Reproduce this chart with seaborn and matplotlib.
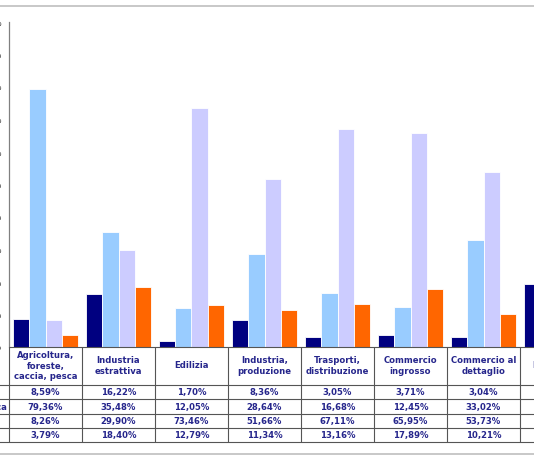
import numpy as np
import pandas as pd
import seaborn as sns
import matplotlib.pyplot as plt
from matplotlib.lines import Line2D

# categories (sectors) and the four series, values in %
settori = ["Agricoltura,\nforeste,\ncaccia, pesca", "Industria\nestrattiva", "Edilizia",
           "Industria,\nproduzione", "Trasporti,\ndistribuzione", "Commercio\ningrosso",
           "Commercio al\ndettaglio", "Ristoranti"]
serie = ["Grandi imprese", "Imprese agricole e della pesca", "Piccole imprese", "Medie imprese"]
serie_1 = [8.59, 16.22, 1.70, 8.36, 3.05, 3.71, 3.04, 19.30]
serie_2 = [79.36, 35.48, 12.05, 28.64, 16.68, 12.45, 33.02, None]
serie_3 = [8.26, 29.90, 73.46, 51.66, 67.11, 65.95, 53.73, None]
serie_4 = [3.79, 18.40, 12.79, 11.34, 13.16, 17.89, 10.21, None]
colori = ["#000080", "#99CCFF", "#CCCCFF", "#FF6600"]
yticks = list(range(0, 101, 10))

rows = []
for nome, vals in zip(serie, [serie_1, serie_2, serie_3, serie_4]):
    for s, v in zip(settori, vals):
        rows.append({"settore": s, "serie": nome, "valore": v})
df = pd.DataFrame(rows).dropna()

W, H = 534, 462
txt_col = "#26268c"
line_col = "#555555"
fs = 6.1

sns.set_style("white")
plt.rcParams["font.family"] = ["DejaVu Sans"]

fig = plt.figure(figsize=(W / 100, H / 100), dpi=100)
fig.patch.set_facecolor("white")

# plot area: left axis at x=9px, 0% at y=347px, 100% at y=22px, 73px per category
cat_px = 73
ax = fig.add_axes([9 / W, (H - 347) / H, cat_px * len(settori) / W, 325 / H])
sns.barplot(data=df, x="settore", y="valore", hue="serie", order=settori, hue_order=serie,
            palette=colori, saturation=1, width=0.88, edgecolor="white", linewidth=0.6,
            legend=False, ax=ax)
ax.set_xlim(-0.5, len(settori) - 0.5)
ax.set_ylim(0, 100)
ax.set_yticks(yticks)
ax.set_yticklabels([f"{t}%" for t in yticks], fontsize=6, color="#333333")
ax.tick_params(axis="y", direction="out", length=2.5, width=0.7, color="#808080", pad=2.5)
ax.set_xticks([])
ax.set_xlabel("")
ax.set_ylabel("")
for side in ["top", "right", "bottom"]:
    ax.spines[side].set_visible(False)
ax.spines["left"].set_color("#808080")
ax.spines["left"].set_linewidth(0.9)

# data table under the chart
hdr = 38 / 14.25
n_rows = len(serie)
tab = fig.add_axes([9 / W, (H - 442) / H, cat_px * len(settori) / W, 95 / H])
tab.set_xlim(-0.5, len(settori) - 0.5)
tab.set_ylim(hdr + n_rows, 0)
tab.axis("off")

xr = len(settori) - 0.5
tab.add_line(Line2D([-0.5, xr], [0, 0], color=line_col, lw=0.8, clip_on=False))
for r in range(n_rows + 1):
    tab.add_line(Line2D([-3.5, xr], [hdr + r, hdr + r], color=line_col, lw=0.8, clip_on=False))
for k in range(len(settori) + 1):
    tab.add_line(Line2D([k - 0.5, k - 0.5], [0, hdr + n_rows], color=line_col, lw=0.8, clip_on=False))

for i, s in enumerate(settori):
    tab.text(i, hdr / 2, s, ha="center", va="center", fontsize=fs, fontweight="bold",
             color=txt_col, linespacing=1.15, clip_on=False)

for r, vals in enumerate([serie_1, serie_2, serie_3, serie_4]):
    for i, v in enumerate(vals):
        if v is None:
            continue
        tab.text(i, hdr + r + 0.55, f"{v:.2f}%".replace(".", ","), ha="center", va="center",
                 fontsize=fs, fontweight="bold", color=txt_col, clip_on=False)

# row labels, left aligned, longest one ending just inside the left edge
labels = []
for r, nome in enumerate(serie):
    t = tab.text(0, hdr + r + 0.55, nome, ha="left", va="center", fontsize=fs,
                 fontweight="bold", color=txt_col, clip_on=False)
    labels.append(t)
renderer = fig.canvas.get_renderer()
wmax = max(t.get_window_extent(renderer).width for t in labels)
x0 = -0.5 + (7 - 9 - wmax) / cat_px
for t in labels:
    t.set_x(x0)

# chart area frame lines (top / bottom)
for y in [6, 454]:
    fig.add_artist(Line2D([0, 1], [(H - y) / H] * 2, transform=fig.transFigure,
                          color="#c8c8c8", lw=1.4))

fig.savefig("out.png", dpi=100)
